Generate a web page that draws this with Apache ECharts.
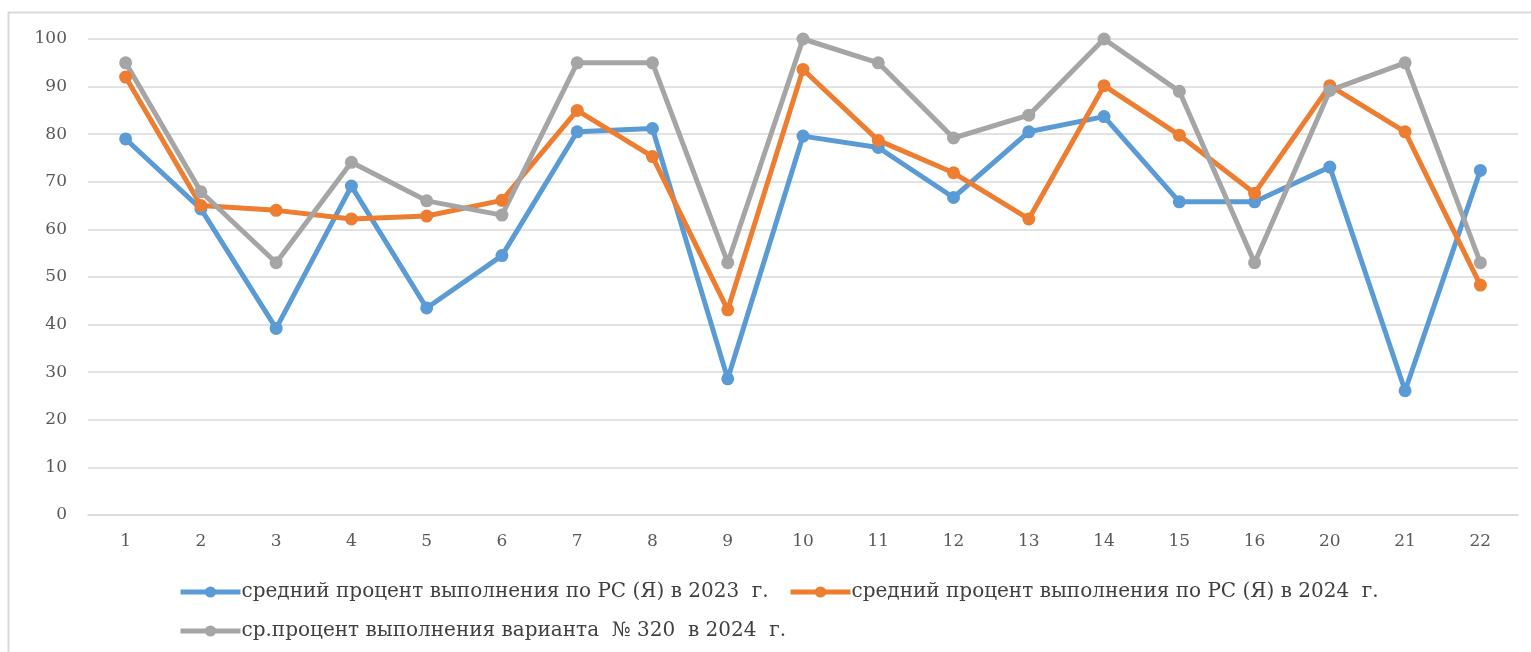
<!DOCTYPE html>
<html><head><meta charset="utf-8">
<script src="https://cdn.jsdelivr.net/npm/echarts@6/dist/echarts.min.js"></script>
<style>html,body{margin:0;padding:0;background:#fff}#c{width:1531px;height:652px}</style>
</head><body><div id="c"></div>
<script>
const categories = ['1','2','3','4','5','6','7','8','9','10','11','12','13','14','15','16','20','21','22'];
const seriesNames = [
  'средний процент выполнения по РС (Я) в 2023  г.',
  'средний процент выполнения по РС (Я) в 2024  г.',
  'ср.процент выполнения варианта  № 320  в 2024  г.'
];
const rs2023 = [79, 64.3, 39.2, 69.1, 43.5, 54.5, 80.5, 81.2, 28.6, 79.6, 77.2, 66.7, 80.5, 83.7, 65.8, 65.8, 73.1, 26.1, 72.4];
const rs2024 = [92, 65, 64, 62.2, 62.8, 66.1, 85, 75.3, 43.1, 93.6, 78.7, 71.9, 62.2, 90.2, 79.8, 67.6, 90.2, 80.5, 48.3];
const v320 = [95, 67.9, 53, 74.1, 66, 63, 95, 95, 53, 100, 95, 79.2, 84, 100, 89, 53, 89.2, 95, 53];
const yTicks = [0, 10, 20, 30, 40, 50, 60, 70, 80, 90, 100];
const colors = ['#5B9BD5', '#ED7D31', '#A5A5A5'];

const chart = echarts.init(document.getElementById('c'));
const font = '"DejaVu Serif", "Liberation Serif", serif';
function mk(name, data, color) {
  return {
    name: name, type: 'line', data: data,
    symbol: 'circle', symbolSize: 13,
    lineStyle: { width: 5, color: color },
    itemStyle: { color: color },
    emphasis: { disabled: true }
  };
}
function lg(name, left, top) {
  return {
    data: [name], left: left, top: top,
    itemWidth: 60, itemHeight: 14, itemGap: 0,
    lineStyle: { width: 5 },
    textStyle: { color: '#404040', fontFamily: font, fontSize: 20, padding: [0, 0, 0, -4] }
  };
}
chart.setOption({
  animation: false,
  color: colors,
  graphic: [{
    type: 'polyline',
    shape: { points: [[8.5, 660], [8.5, 12.5], [1531, 12.5]] },
    style: { stroke: '#D9D9D9', lineWidth: 2, fill: null }
  }],
  grid: { left: 88, right: 13, top: 39, bottom: 137, containLabel: false },
  xAxis: {
    type: 'category', data: categories, boundaryGap: true,
    axisLine: { show: true, lineStyle: { color: '#D9D9D9', width: 1.5 } },
    axisTick: { show: false },
    axisLabel: { color: '#595959', fontFamily: font, fontSize: 17, margin: 18 }
  },
  yAxis: {
    type: 'value', min: yTicks[0], max: yTicks[yTicks.length - 1], interval: 10,
    axisLine: { show: false }, axisTick: { show: false },
    splitLine: { lineStyle: { color: '#D9D9D9', width: 1.5 } },
    axisLabel: { color: '#595959', fontFamily: font, fontSize: 17, margin: 21 }
  },
  legend: [lg(seriesNames[0], 173, 577), lg(seriesNames[1], 783, 577), lg(seriesNames[2], 173, 616)],
  series: [mk(seriesNames[0], rs2023, colors[0]), mk(seriesNames[1], rs2024, colors[1]), mk(seriesNames[2], v320, colors[2])]
});
</script></body></html>
